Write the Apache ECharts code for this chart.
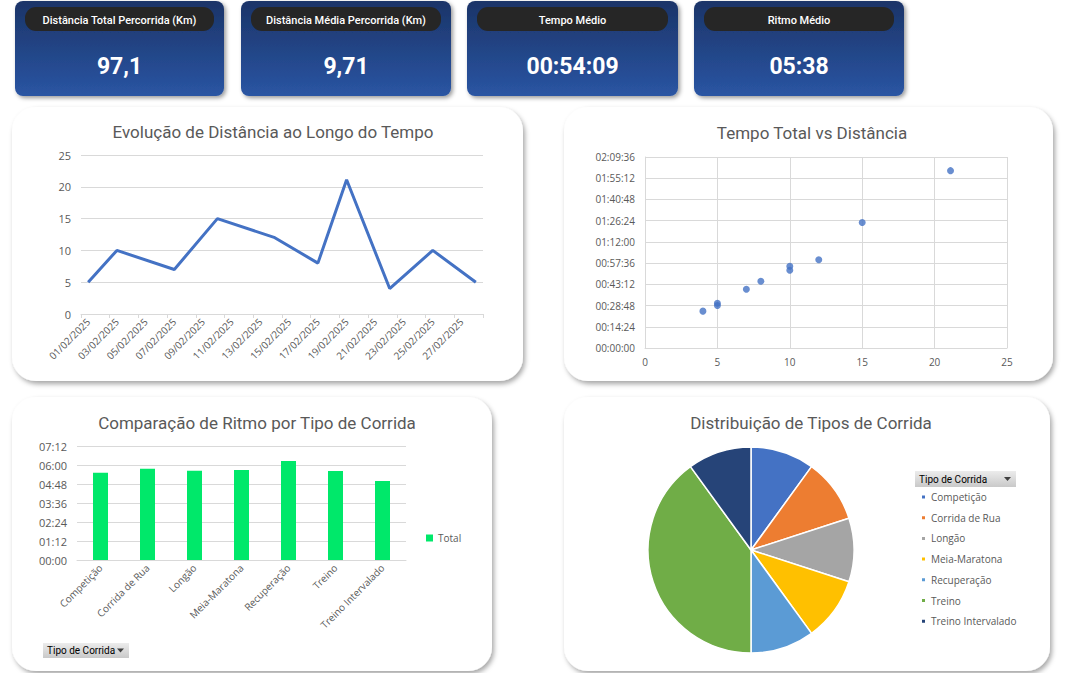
<!DOCTYPE html>
<html><head><meta charset="utf-8">
<script src="https://cdn.jsdelivr.net/npm/echarts@6/dist/echarts.min.js"></script>
<style>html,body{margin:0;padding:0;background:#fff;}#c{width:1065px;height:673px;}</style>
</head><body><div id="c"></div>
<script>
// ---------- DATA ----------
const kpiTitles = ['Distância Total Percorrida (Km)', 'Distância Média Percorrida (Km)', 'Tempo Médio', 'Ritmo Médio'];
const kpiValues = ['97,1', '9,71', '00:54:09', '05:38'];

const lineTitle = 'Evolução de Distância ao Longo do Tempo';
const dateCategories = ['01/02/2025','02/02/2025','03/02/2025','04/02/2025','05/02/2025','06/02/2025','07/02/2025',
  '08/02/2025','09/02/2025','10/02/2025','11/02/2025','12/02/2025','13/02/2025','14/02/2025',
  '15/02/2025','16/02/2025','17/02/2025','18/02/2025','19/02/2025','20/02/2025','21/02/2025',
  '22/02/2025','23/02/2025','24/02/2025','25/02/2025','26/02/2025','27/02/2025','28/02/2025'];
const runDates = ['01/02/2025','03/02/2025','07/02/2025','10/02/2025','14/02/2025','17/02/2025','19/02/2025','22/02/2025','25/02/2025','28/02/2025'];
const runKm = [5, 10, 7, 15, 12, 8, 21.1, 4, 10, 5];

const scatterTitle = 'Tempo Total vs Distância';
const scatterKm = [4, 5, 5, 7, 8, 10, 10, 12, 15, 21.1];
const scatterTimeSec = [1500, 1825, 1730, 2395, 2720, 3325, 3165, 3595, 5110, 7220];

const barTitle = 'Comparação de Ritmo por Tipo de Corrida';
const runTypes = ['Competição', 'Corrida de Rua', 'Longão', 'Meia-Maratona', 'Recuperação', 'Treino', 'Treino Intervalado'];
const paceSec = [331, 346, 338, 341, 375, 337, 299];
const barSeriesName = 'Total';

const pieTitle = 'Distribuição de Tipos de Corrida';
const typeCounts = [1, 1, 1, 1, 1, 4, 1];
const pieColors = ['#4472c4', '#ed7d31', '#a5a5a5', '#ffc000', '#5b9bd5', '#70ad47', '#264478'];
const fieldButtonLabel = 'Tipo de Corrida';

// ---------- HELPERS ----------
const pad = n => String(n).padStart(2, '0');
const hms = s => pad(Math.floor(s / 3600)) + ':' + pad(Math.floor((s % 3600) / 60)) + ':' + pad(Math.round(s % 60));
const ms = s => pad(Math.floor(s / 60)) + ':' + pad(Math.round(s % 60));

const TXT = '#595959';
const GRID = '#d9d9d9';
const FONT = 'Roboto, "Open Sans", sans-serif';
const LBL = '"Open Sans", "Noto Sans", sans-serif';
const NARROW = '"Liberation Sans Narrow", Roboto, sans-serif';

// ---------- GRAPHICS (cards, panels) ----------
const graphics = [];
const kpiBoxes = [[15, 1, 209, 95], [241, 1, 210, 95], [467, 1, 211, 95], [694, 1, 210, 95]];
kpiBoxes.forEach((b, i) => {
  graphics.push({
    type: 'rect', z: 1, shape: { x: b[0], y: b[1], width: b[2], height: b[3], r: 8 },
    style: {
      fill: new echarts.graphic.LinearGradient(0, 0, 0, 1, [{ offset: 0, color: '#1b3468' }, { offset: 1, color: '#2a55a3' }]),
      shadowBlur: 4, shadowOffsetX: 2, shadowOffsetY: 2, shadowColor: 'rgba(0,0,0,0.4)'
    }
  });
  graphics.push({
    type: 'rect', z: 2, shape: { x: b[0] + 10, y: 7, width: b[2] - 20, height: 24, r: 11 },
    style: { fill: '#262626' }
  });
  graphics.push({
    type: 'text', z: 3, x: b[0] + b[2] / 2, y: 20,
    style: { text: kpiTitles[i], fill: '#ffffff', font: '500 11px ' + FONT, textAlign: 'center', textVerticalAlign: 'middle' }
  });
  graphics.push({
    type: 'text', z: 3, x: b[0] + b[2] / 2, y: 66,
    style: { text: kpiValues[i], fill: '#ffffff', font: 'bold 23px ' + FONT, textAlign: 'center', textVerticalAlign: 'middle' }
  });
});
const panels = [[12, 107, 511, 274], [564, 107, 489, 274], [12, 397, 480, 274], [564, 397, 486, 274]];
panels.forEach(p => {
  graphics.push({
    type: 'rect', z: 0, shape: { x: p[0], y: p[1], width: p[2], height: p[3], r: 24 },
    style: { fill: '#ffffff', shadowBlur: 5, shadowOffsetX: 2, shadowOffsetY: 3, shadowColor: 'rgba(0,0,0,0.35)' }
  });
});
function fieldButton(x, y, w, h) {
  graphics.push({
    type: 'rect', z: 5, shape: { x: x, y: y, width: w, height: h },
    style: { fill: new echarts.graphic.LinearGradient(0, 0, 0, 1, [{ offset: 0, color: '#ececec' }, { offset: 1, color: '#c9c9c9' }]) }
  });
  graphics.push({
    type: 'text', z: 6, x: x + 4, y: y + h / 2,
    style: { text: fieldButtonLabel, fill: '#000000', font: '10px ' + NARROW, textVerticalAlign: 'middle' }
  });
  graphics.push({
    type: 'polygon', z: 6, shape: { points: [[x + w - 12, y + h / 2 - 2], [x + w - 5, y + h / 2 - 2], [x + w - 8.5, y + h / 2 + 2]] },
    style: { fill: '#404040' }
  });
}
fieldButton(43, 643, 86, 15);
fieldButton(915, 471, 101, 16);

// ---------- CHART ----------
const chart = echarts.init(document.getElementById('c'), null, { renderer: 'svg' });
const titleStyle = { color: TXT, fontSize: 17, fontWeight: 'normal', fontFamily: FONT };
const axisLbl = { color: TXT, fontSize: 10, fontFamily: LBL };

chart.setOption({
  backgroundColor: '#ffffff',
  animation: false,
  graphic: { elements: graphics },
  title: [
    { text: lineTitle, left: 268, top: 118, textAlign: 'center', textStyle: titleStyle },
    { text: scatterTitle, left: 807, top: 119, textAlign: 'center', textStyle: titleStyle },
    { text: barTitle, left: 252, top: 409, textAlign: 'center', textStyle: titleStyle },
    { text: pieTitle, left: 806, top: 409, textAlign: 'center', textStyle: titleStyle }
  ],
  legend: [
    {
      data: [barSeriesName], left: 421, top: 528, itemWidth: 7, itemHeight: 7, icon: 'rect', itemGap: 4,
      textStyle: { color: TXT, fontSize: 10, fontFamily: LBL }
    },
    {
      data: runTypes, orient: 'vertical', left: 915, top: 485, itemWidth: 5, itemHeight: 5, icon: 'rect', itemGap: 6.7,
      textStyle: { color: TXT, fontSize: 10, fontFamily: LBL, lineHeight: 14 }
    }
  ],
  grid: [
    { left: 81, top: 155, width: 402, height: 159 },
    { left: 645, top: 157, width: 362, height: 191 },
    { left: 77, top: 446, width: 329, height: 114 },
  ],
  xAxis: [
    {
      gridIndex: 0, type: 'category', data: dateCategories, boundaryGap: true,
      axisLine: { lineStyle: { color: GRID } },
      axisTick: { show: true, interval: 1, length: 4, lineStyle: { color: GRID } },
      axisLabel: Object.assign({ interval: 1, rotate: 45, margin: 6 }, axisLbl)
    },
    {
      gridIndex: 1, type: 'value', min: 0, max: 25, interval: 5,
      axisLine: { show: true, lineStyle: { color: GRID } }, axisTick: { show: false },
      splitLine: { show: true, lineStyle: { color: GRID } },
      axisLabel: Object.assign({ margin: 9 }, axisLbl)
    },
    {
      gridIndex: 2, type: 'category', data: runTypes,
      axisLine: { lineStyle: { color: GRID } }, axisTick: { show: false },
      axisLabel: Object.assign({ interval: 0, rotate: 45, margin: 6 }, axisLbl)
    }
  ],
  yAxis: [
    {
      gridIndex: 0, type: 'value', min: 0, max: 25, interval: 5,
      axisLine: { show: false }, axisTick: { show: false },
      splitLine: { lineStyle: { color: GRID } },
      axisLabel: Object.assign({ margin: 10 }, axisLbl, { fontSize: 11 })
    },
    {
      gridIndex: 1, type: 'value', min: 0, max: 7776, interval: 864,
      axisLine: { show: true, lineStyle: { color: GRID } }, axisTick: { show: false },
      splitLine: { lineStyle: { color: GRID } },
      axisLabel: Object.assign({ margin: 10, formatter: v => hms(v) }, axisLbl)
    },
    {
      gridIndex: 2, type: 'value', min: 0, max: 432, interval: 72,
      axisLine: { show: false }, axisTick: { show: false },
      splitLine: { lineStyle: { color: GRID } },
      axisLabel: Object.assign({ margin: 10, formatter: v => ms(v) }, axisLbl, { fontSize: 11 })
    }
  ],
  series: [
    {
      type: 'line', xAxisIndex: 0, yAxisIndex: 0, symbol: 'none',
      data: runDates.map((d, i) => [d, runKm[i]]),
      lineStyle: { color: '#4472c4', width: 3 }
    },
    {
      type: 'scatter', xAxisIndex: 1, yAxisIndex: 1, symbolSize: 7,
      data: scatterKm.map((k, i) => [k, scatterTimeSec[i]]),
      itemStyle: { color: '#4472c4' }
    },
    {
      name: barSeriesName, type: 'bar', xAxisIndex: 2, yAxisIndex: 2, barWidth: 15,
      data: paceSec, itemStyle: { color: '#00e86a' }
    },
    {
      type: 'pie', center: [751, 550], radius: 103, startAngle: 90, clockwise: true,
      label: { show: false }, labelLine: { show: false },
      itemStyle: { borderColor: '#ffffff', borderWidth: 1.5 },
      data: runTypes.map((t, i) => ({ name: t, value: typeCounts[i], itemStyle: { color: pieColors[i] } }))
    }
  ]
});
</script>
</body></html>
